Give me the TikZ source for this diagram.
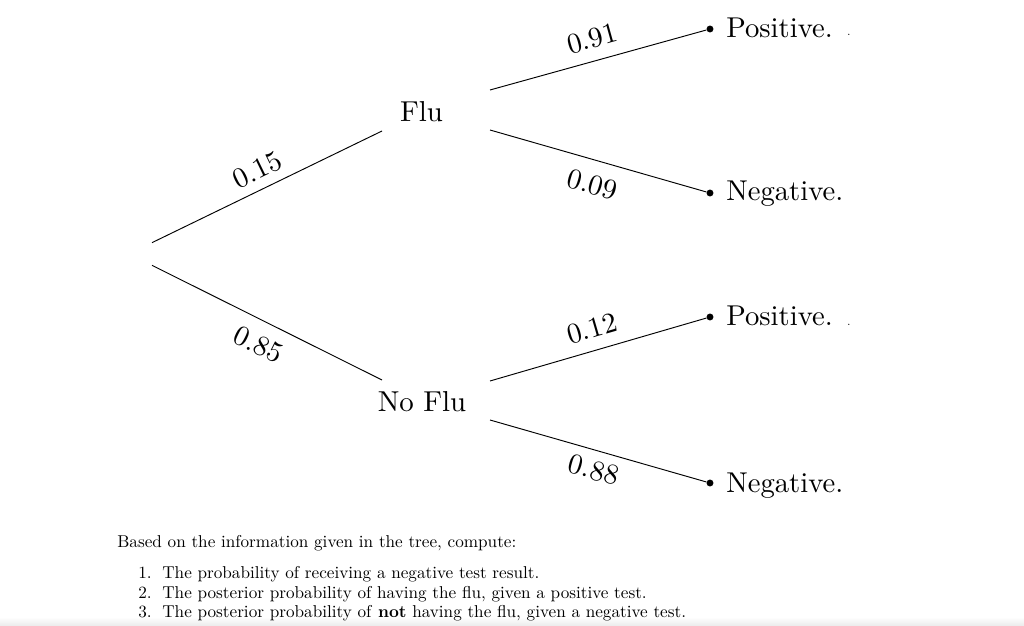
\documentclass[tikz,border=0pt]{standalone}
\usepackage{fontspec}
\newfontfamily\treefont{lmroman10-regular.otf}
\usetikzlibrary{calc}
\begin{document}
\begin{tikzpicture}[x=0.635pt,y=-0.635pt,
  tree/.style={font=\treefont\fontsize{18.3}{22}\selectfont, inner sep=0pt},
  prob/.style={font=\treefont\fontsize{18.2}{22}\selectfont, sloped, inner sep=#1},
  branch/.style={line width=0.6pt},
  dot/.style={circle, fill=black, inner sep=0pt, minimum size=4.4pt},
  leaf/.style={font=\treefont\fontsize{18.2}{22}\selectfont, inner sep=0pt, anchor=base west},
  tiny/.style={font=\fontsize{7}{8}\selectfont, inner sep=0pt, anchor=base},
  txt/.style={font=\fontsize{10.9}{13}\selectfont, inner sep=0pt, anchor=base west},
  num/.style={font=\fontsize{10.9}{13}\selectfont, inner sep=0pt, anchor=base east},
  root/.style={inner sep=0pt, minimum width=0pt, minimum height=14pt}
]
\useasboundingbox (0,0) rectangle (1024,626);
\shade[top color=white, bottom color=gray!16] (0,617) rectangle (1024,626);

% root
\node[root] (root) at (152,254) {};
% level-1 nodes
\node[tree] (flu) at (421.5,112) {Flu};
\node[tree] (noflu) at (422,402) {No Flu};
\coordinate (fluin) at (382,131);
\coordinate (fluout1) at (490,90);
\coordinate (fluout2) at (490,130);
\coordinate (noin) at (382,380);
\coordinate (noout1) at (490,381);
\coordinate (noout2) at (490,420);

% leaves
\node[dot] (d1) at (710,29) {};
\node[dot] (d2) at (710,193) {};
\node[dot] (d3) at (710,317) {};
\node[dot] (d4) at (710,483) {};
\node[leaf] (l1) at (726,38) {Positive.};
\node[leaf] (l2) at (726,201) {Negative.};
\node[leaf] (l3) at (726,326) {Positive.};
\node[leaf] (l4) at (726,492) {Negative.};
\node[tiny] (s1) at (849,36) {.};
\node[tiny] (s2) at (849,326) {.};

% branches
\draw[branch] (root.north) -- node[prob=5.8pt, above, pos=0.495] {0.15} (fluin);
\draw[branch] (root.south) -- node[prob=8.3pt, below, pos=0.51] {0.85} (noin);
\draw[branch] (fluout1) -- node[prob=7.7pt, above, pos=0.5] {0.91} (d1);
\draw[branch] (fluout2) -- node[prob=8.9pt, below, pos=0.505] {0.09} (d2);
\draw[branch] (noout1) -- node[prob=7.4pt, above, pos=0.5] {0.12} (d3);
\draw[branch] (noout2) -- node[prob=5.8pt, below, pos=0.505] {0.88} (d4);

% question text
\node[txt] (q0) at (117,547) {Based on the information given in the tree, compute:};
\node[num] (n1) at (152,578) {1.};
\node[txt] (q1) at (162,578) {The probability of receiving a negative test result.};
\node[num] (n2) at (152,598) {2.};
\node[txt] (q2) at (162,598) {The posterior probability of having the flu, given a positive test.};
\node[num] (n3) at (152,617) {3.};
\node[txt] (q3) at (162,617) {The posterior probability of \textbf{not} having the flu, given a negative test.};
\end{tikzpicture}
\end{document}
